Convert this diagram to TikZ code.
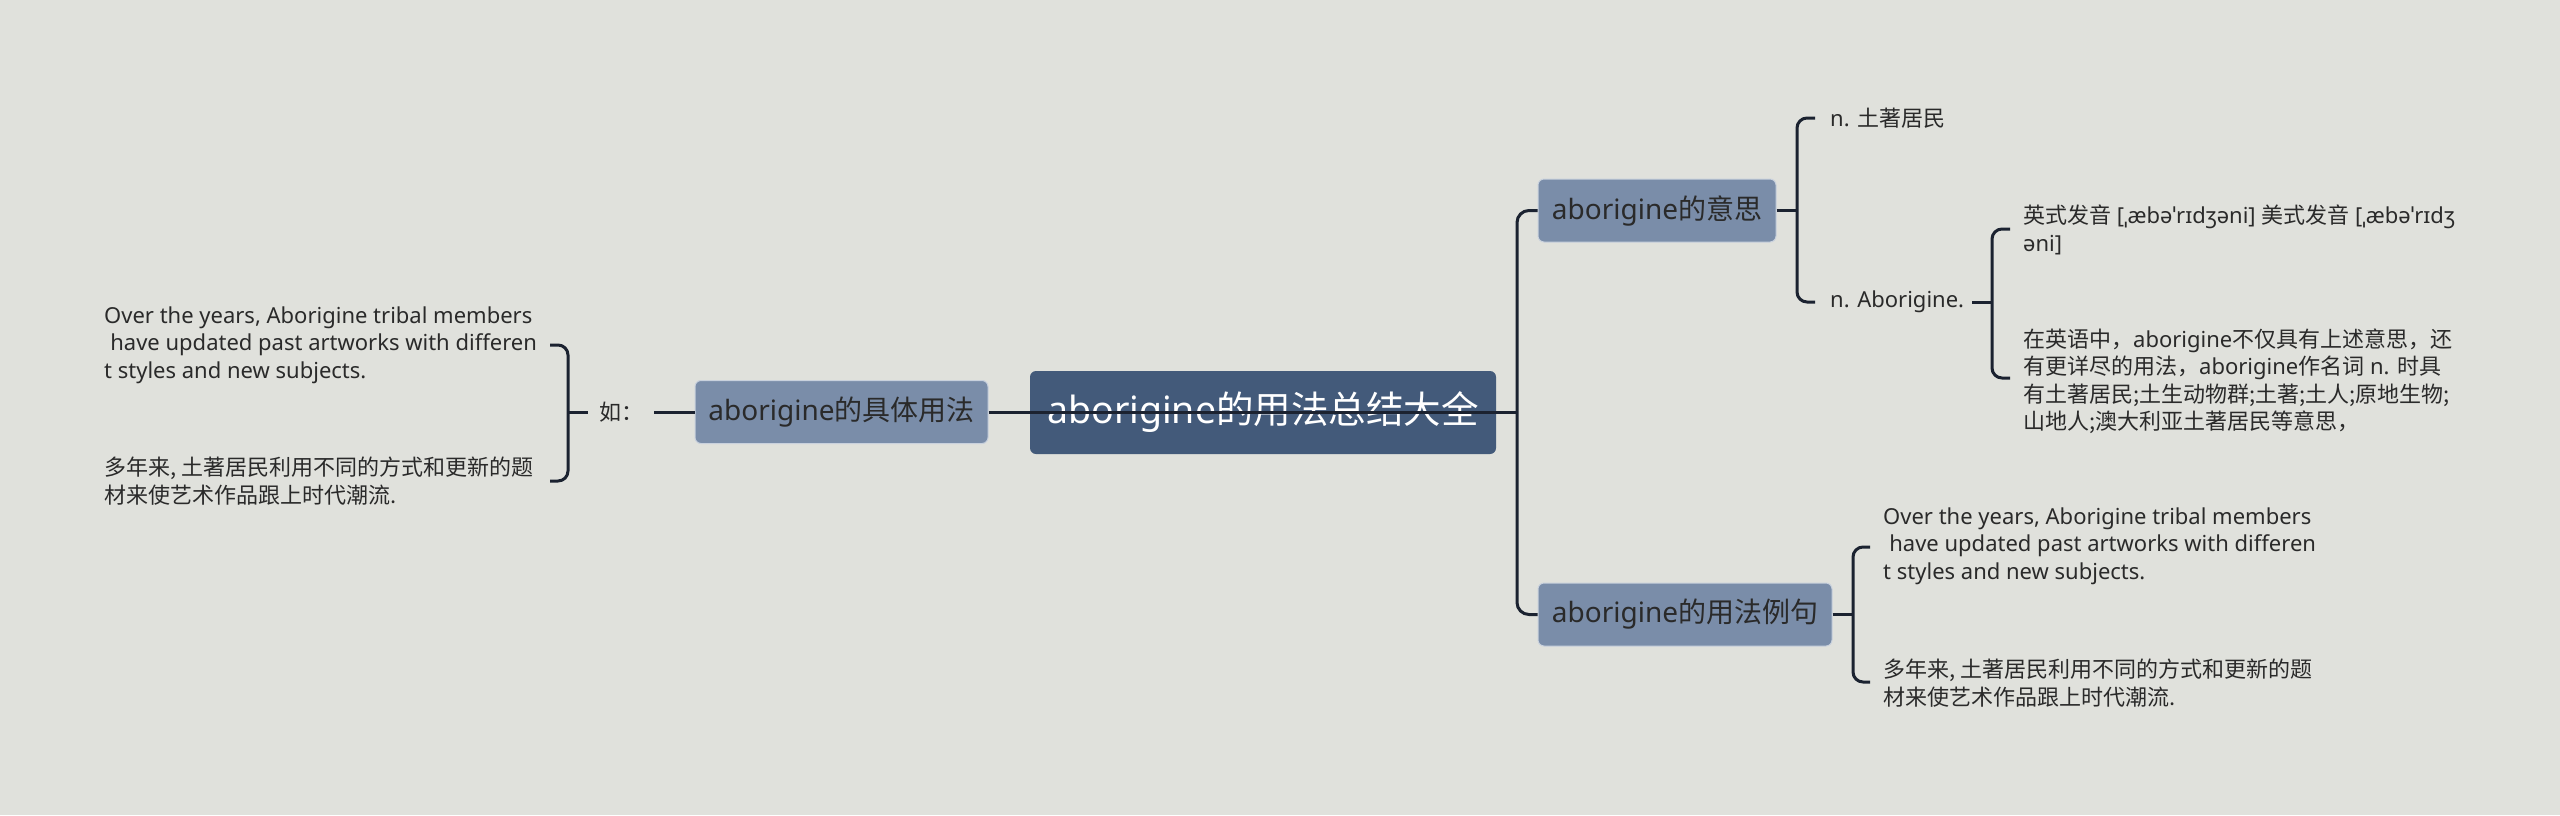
\documentclass[tikz,border=0pt]{standalone}
\usepackage{fontspec}
\setmainfont{Noto Sans}
\newfontfamily\cjkf{Noto Sans CJK SC}
\newcommand\zh[1]{{\cjkf #1}}
\definecolor{bg}{HTML}{E0E1DC}
\definecolor{rootc}{HTML}{435A7A}
\definecolor{subc}{HTML}{7A8DA9}
\definecolor{subb}{HTML}{C9D1DD}
\definecolor{linec}{HTML}{1B2230}
\definecolor{txt}{HTML}{2A2A2A}
\tikzset{
  rootbox/.style={fill=rootc, rounded corners=6pt, text=white, inner sep=0pt,
    minimum width=466pt, minimum height=83pt, font=\fontsize{37.5}{42}\selectfont},
  subbox/.style={fill=subc, draw=subb, line width=1pt, rounded corners=6pt, text=txt, inner sep=0pt,
    minimum height=63pt, font=\fontsize{28}{32}\selectfont},
  leaf/.style={text=txt, align=left, inner ysep=0pt, font=\fontsize{22}{27.5}\selectfont},
  conn/.style={draw=linec, line width=3pt},
}
\begin{document}
\begin{tikzpicture}[x=1pt,y=-1pt]
\fill[bg] (0,0) rectangle (2560,815);
\useasboundingbox (0,0) rectangle (2560,815);

% main nodes
\node[rootbox] (root) at (1263,412.5) {aborigine\zh{的用法总结大全}};
\node[subbox, minimum width=293pt] (jt) at (841.5,412) {aborigine\zh{的具体用法}};
\node[subbox, minimum width=238pt] (mean) at (1657,210.5) {aborigine\zh{的意思}};
\node[subbox, minimum width=294pt] (ex) at (1685,614.5) {aborigine\zh{的用法例句}};

% left side
\node[leaf, inner xsep=11pt, anchor=center] (ru) at (621,412) {\zh{如：}};
\node[leaf, inner xsep=0pt, anchor=west] (l1) at (104,345) {Over the years, Aborigine tribal members\\\hspace*{0.28em}have updated past artworks with differen\\t styles and new subjects.};
\node[leaf, inner xsep=0pt, anchor=west] (l2) at (104,481) {\zh{多年来, 土著居民利用不同的方式和更新的题}\\\zh{材来使艺术作品跟上时代潮流.}};
\coordinate (l1e) at (550,345);
\coordinate (l2e) at (550,481);
\coordinate (lb) at (568,412);

% right side: meaning
\node[leaf, inner xsep=0pt, anchor=west] (n1) at (1830,118) {n. \zh{土著居民}};
\node[leaf, inner xsep=0pt, anchor=west] (n2) at (1830,302) {n. Aborigine.};
\coordinate (n1w) at (1815,118);
\coordinate (n2w) at (1815,302);
\coordinate (rb1) at (1797,210.5);

\node[leaf, inner xsep=0pt, anchor=west] (b1) at (2023,230) {\zh{英式发音} [ˌæbəˈrɪdʒəni] \zh{美式发音} [ˌæbəˈrɪdʒ\\əni]};
\node[leaf, inner xsep=0pt, anchor=west] (b2) at (2023,381) {\zh{在英语中，}aborigine\zh{不仅具有上述意思，还}\\\zh{有更详尽的用法，}aborigine\zh{作名词} n. \zh{时具}\\\zh{有土著居民;土生动物群;土著;土人;原地生物;}\\\zh{山地人;澳大利亚土著居民等意思，}};
\coordinate (b1w) at (2010,229);
\coordinate (b2w) at (2010,378);
\coordinate (rb3) at (1992,302);
\coordinate (n2e) at (1972,302);

% right side: examples
\node[leaf, inner xsep=0pt, anchor=west] (e1) at (1883,546) {Over the years, Aborigine tribal members\\\hspace*{0.28em}have updated past artworks with differen\\t styles and new subjects.};
\node[leaf, inner xsep=0pt, anchor=west] (e2) at (1883,683) {\zh{多年来, 土著居民利用不同的方式和更新的题}\\\zh{材来使艺术作品跟上时代潮流.}};
\coordinate (e1w) at (1870,547);
\coordinate (e2w) at (1870,682);
\coordinate (rb2) at (1853,614.5);

\coordinate (tr) at (1517,412);

% connectors
\draw[conn] (jt.east) -- (tr);
\draw[conn, rounded corners=12pt] (mean.west) -| (tr) |- (ex.west);
\draw[conn] (ru.east) -- (jt.west);
\draw[conn] (lb) -- (ru.west);
\draw[conn, rounded corners=10pt] (l1e) -| (lb) |- (l2e);
\draw[conn] (mean.east) -- (rb1);
\draw[conn, rounded corners=10pt] (n1w) -| (rb1) |- (n2w);
\draw[conn] (n2e) -- (rb3);
\draw[conn, rounded corners=10pt] (b1w) -| (rb3) |- (b2w);
\draw[conn] (ex.east) -- (rb2);
\draw[conn, rounded corners=10pt] (e1w) -| (rb2) |- (e2w);
\end{tikzpicture}
\end{document}
